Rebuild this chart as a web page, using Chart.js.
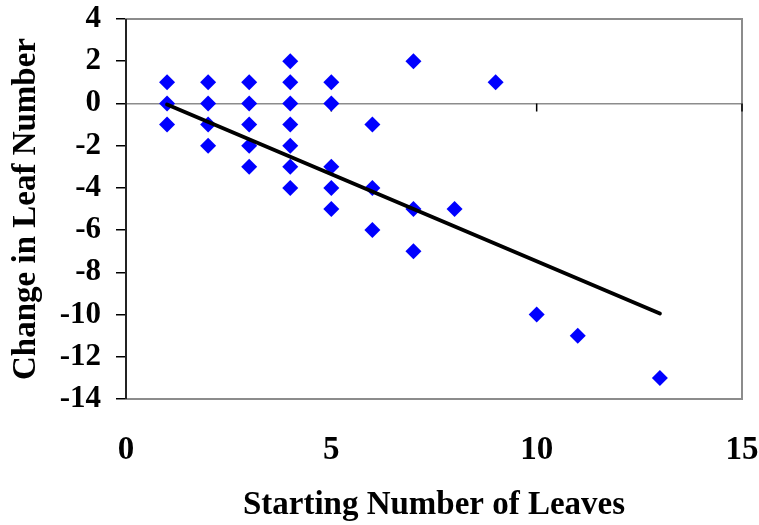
<!DOCTYPE html>
<html>
<head>
<meta charset="utf-8">
<script src="https://cdn.jsdelivr.net/npm/chart.js@4/dist/chart.umd.min.js"></script>
<style>
  html, body { margin: 0; padding: 0; background: #fff; }
  canvas { display: block; }
</style>
</head>
<body>
<canvas id="grafico" width="759" height="525"></canvas>
<script>
// datos
const startLeaves = [1, 1, 1, 2, 2, 2, 2, 3, 3, 3, 3, 3, 4, 4, 4, 4, 4, 4, 4, 5, 5, 5, 5, 5, 6, 6, 6, 7, 7, 7, 8, 9, 10, 11, 13];
const leafChange = [1, 0, -1, 1, 0, -1, -2, 1, 0, -1, -2, -3, 2, 1, 0, -1, -2, -3, -4, 1, 0, -3, -4, -5, -1, -4, -6, 2, -5, -7, -5, 1, -10, -11, -13];
const trendX = [1, 13];
const trendY = [-0.05, -9.95];
const xTicks = [0, 5, 10, 15];
const yTicks = [4, 2, 0, -2, -4, -6, -8, -10, -12, -14];

const fuente = 'Liberation Serif, Times New Roman, serif';

// caja gris, eje izquierdo y marcas del eje x sobre la linea cero
const marcoPlugin = {
    id: 'marco',
    beforeDatasetsDraw(chart) {
        const { ctx, chartArea: a, scales } = chart;
        ctx.save();
        ctx.strokeStyle = '#8c8c8c';
        ctx.lineWidth = 2;
        ctx.strokeRect(a.left, a.top, a.right - a.left, a.bottom - a.top);
        ctx.strokeStyle = '#000';
        ctx.lineWidth = 1.5;
        ctx.beginPath();
        ctx.moveTo(a.left, a.top);
        ctx.lineTo(a.left, a.bottom);
        const y0 = scales.y.getPixelForValue(0);
        xTicks.forEach(v => {
            const px = scales.x.getPixelForValue(v);
            ctx.moveTo(px, y0);
            ctx.lineTo(px, y0 + 8);
        });
        ctx.stroke();
        ctx.restore();
    }
};

new Chart(document.getElementById('grafico').getContext('2d'), {
    type: 'scatter',
    data: {
        datasets: [
            {
                type: 'line',
                data: trendX.map((x, i) => ({ x: x, y: trendY[i] })),
                borderColor: '#000',
                borderWidth: 4,
                borderCapStyle: 'round',
                pointRadius: 0,
                fill: false,
                order: 0
            },
            {
                data: startLeaves.map((x, i) => ({ x: x, y: leafChange[i] })),
                pointStyle: 'rectRot',
                pointRadius: 8,
                pointHoverRadius: 8,
                backgroundColor: '#0000ff',
                borderColor: '#0000ff',
                borderWidth: 0,
                order: 1
            }
        ]
    },
    options: {
        responsive: false,
        animation: false,
        layout: { padding: { top: 19, right: 17, left: 0, bottom: 0 } },
        plugins: {
            legend: { display: false },
            tooltip: { enabled: false }
        },
        scales: {
            x: {
                type: 'linear',
                min: 0,
                max: 15,
                afterBuildTicks: s => { s.ticks = xTicks.map(v => ({ value: v })); },
                afterFit: s => { s.height = 126; s.paddingLeft = 0; s.paddingRight = 0; },
                grid: { display: false, drawTicks: false },
                border: { display: false },
                ticks: {
                    padding: 32,
                    color: '#000',
                    font: { family: fuente, size: 33, weight: 'bold' }
                },
                title: {
                    display: true,
                    text: 'Starting Number of Leaves',
                    color: '#000',
                    padding: { top: 0, bottom: 0 },
                    font: { family: fuente, size: 33, weight: 'bold' }
                }
            },
            y: {
                min: -14,
                max: 4,
                afterBuildTicks: s => { s.ticks = yTicks.map(v => ({ value: v })); },
                afterFit: s => { s.width = 126; s.paddingTop = 0; s.paddingBottom = 0; },
                grid: {
                    color: c => (c.tick && c.tick.value === 0) ? '#8c8c8c' : 'rgba(0,0,0,0)',
                    lineWidth: 1.5,
                    tickColor: '#000',
                    tickLength: 10,
                    drawTicks: true
                },
                border: { display: false },
                ticks: {
                    padding: 15,
                    color: '#000',
                    font: { family: fuente, size: 31, weight: 'bold' }
                },
                title: {
                    display: true,
                    text: 'Change in Leaf Number',
                    color: '#000',
                    padding: { top: 7, bottom: 0 },
                    font: { family: fuente, size: 33, weight: 'bold' }
                }
            }
        }
    },
    plugins: [marcoPlugin]
});
</script>
</body>
</html>
